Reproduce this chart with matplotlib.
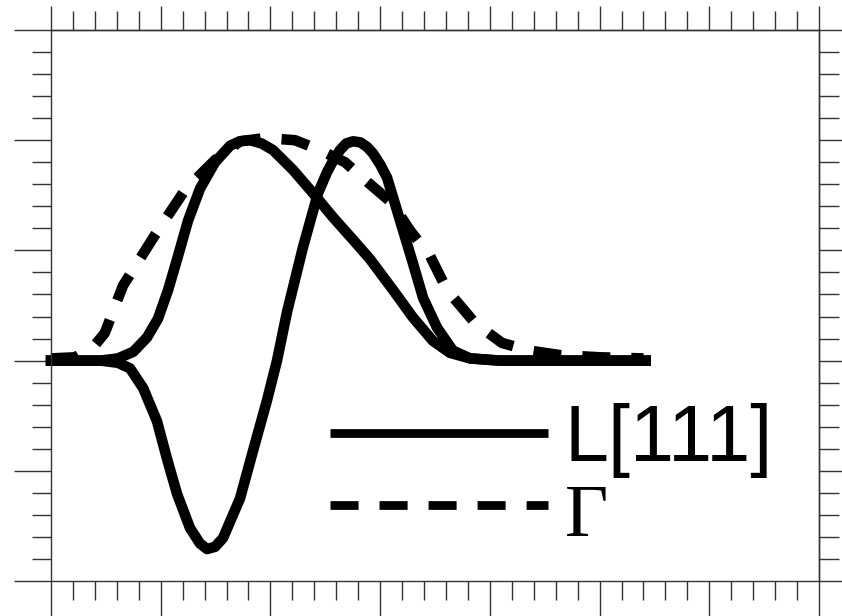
import numpy as np
import matplotlib
matplotlib.use("Agg")
import matplotlib.pyplot as plt
from matplotlib.ticker import MultipleLocator, NullFormatter
from matplotlib.lines import Line2D

plt.rcParams['lines.scale_dashes'] = False

# curve A (solid, peak at ~1.8)
xa = [0.00, 0.45, 0.61, 0.75, 0.875, 0.975, 1.067, 1.158, 1.249, 1.358, 1.495, 1.632,
      1.72, 1.814, 1.92, 2.024, 2.206, 2.388, 2.571, 2.75, 2.908, 3.118, 3.30, 3.48,
      3.637, 3.82, 4.09, 5.42]
ya = [0.00, 0.00, 0.02, 0.08, 0.21, 0.38, 0.64, 0.95, 1.27, 1.56, 1.80, 1.95,
      1.99, 2.00, 1.97, 1.91, 1.73, 1.52, 1.30, 1.10, 0.92, 0.64, 0.39, 0.18,
      0.07, 0.02, 0.00, 0.00]

# curve B (solid, dip then peak)
xb = [0.00, 0.45, 0.61, 0.72, 0.84, 0.966, 1.057, 1.149, 1.267, 1.358, 1.422, 1.495,
      1.568, 1.723, 1.841, 1.969, 2.06, 2.151, 2.297, 2.434, 2.516, 2.58, 2.634, 2.69,
      2.753, 2.82, 2.88, 2.935, 3.0, 3.063, 3.118, 3.209, 3.30, 3.391, 3.518, 3.664,
      3.82, 4.09, 5.42]
yb = [0.00, 0.00, -0.02, -0.07, -0.25, -0.55, -0.89, -1.21, -1.52, -1.66, -1.71, -1.69,
      -1.61, -1.25, -0.82, -0.36, 0.00, 0.44, 1.03, 1.52, 1.71, 1.83, 1.91, 1.97,
      1.99, 1.98, 1.94, 1.88, 1.78, 1.66, 1.48, 1.18, 0.88, 0.57, 0.30, 0.09,
      0.02, 0.00, 0.00]

# Gamma (dashed)
xg = [0.00, 0.22, 0.40, 0.49, 0.656, 0.948, 1.222, 1.495, 1.723, 1.951, 2.224, 2.452,
      2.68, 2.862, 3.108, 3.273, 3.455, 3.61, 3.865, 4.111, 4.366, 4.64, 5.005, 5.40]
yg = [0.02, 0.03, 0.14, 0.25, 0.68, 1.14, 1.55, 1.82, 1.99, 2.02, 2.00, 1.91,
      1.80, 1.64, 1.43, 1.18, 0.95, 0.64, 0.34, 0.16, 0.09, 0.05, 0.03, 0.02]

labels = ['L[111]', '\u0393']

LW = 7.6
DASH = (20.2, 15.1)
SPINE = '#333333'

fig = plt.figure(figsize=(8.42, 6.16), dpi=100)
ax = fig.add_axes([51/842, 1-581/616, 768/842, 551/616])
ax.set_xlim(0, 7)
ax.set_ylim(-2, 3)

ax.plot(xa, ya, color='k', lw=LW, solid_capstyle='projecting', solid_joinstyle='round', clip_on=False)
ax.plot(xb, yb, color='k', lw=LW, solid_capstyle='projecting', solid_joinstyle='round', clip_on=False)
ax.plot(xg, yg, color='k', lw=LW, dashes=DASH, dash_capstyle='butt', clip_on=False)

# legend drawn by hand
ax.add_line(Line2D([0.3633, 0.6471], [0.269, 0.269], transform=ax.transAxes,
                   color='k', lw=6.3, solid_capstyle='butt'))
ax.add_line(Line2D([0.3633, 0.6471], [0.138, 0.138], transform=ax.transAxes,
                   color='k', lw=6.3, dashes=DASH, dash_capstyle='butt'))
ax.text(0.668, 0.218, labels[0], transform=ax.transAxes, fontsize=57,
        family='Liberation Sans', va='baseline', ha='left')
ax.text(0.669, 0.0818, labels[1], transform=ax.transAxes, fontsize=54,
        family='Liberation Serif', va='baseline', ha='left')

for s in ax.spines.values():
    s.set_color(SPINE)
    s.set_linewidth(1.0)

ax.xaxis.set_major_locator(MultipleLocator(1))
ax.xaxis.set_minor_locator(MultipleLocator(0.2))
ax.yaxis.set_major_locator(MultipleLocator(1))
ax.yaxis.set_minor_locator(MultipleLocator(0.2))
ax.xaxis.set_major_formatter(NullFormatter())
ax.yaxis.set_major_formatter(NullFormatter())
ax.tick_params(which='both', direction='out', color=SPINE, width=1.0)
ax.tick_params(which='major', length=26.6)
ax.tick_params(which='minor', length=13.7)

top = ax.secondary_xaxis('top')
top.xaxis.set_major_locator(MultipleLocator(1))
top.xaxis.set_minor_locator(MultipleLocator(0.2))
top.xaxis.set_major_formatter(NullFormatter())
top.tick_params(which='both', direction='out', color=SPINE, width=1.0)
top.tick_params(which='major', length=17.3)
top.tick_params(which='minor', length=13.7)

right = ax.secondary_yaxis('right')
right.yaxis.set_major_locator(MultipleLocator(1))
right.yaxis.set_minor_locator(MultipleLocator(0.2))
right.yaxis.set_major_formatter(NullFormatter())
right.tick_params(which='both', direction='out', color=SPINE, width=1.0)
right.tick_params(which='major', length=17.3)
right.tick_params(which='minor', length=14.4)

for sec in (top, right):
    for s in sec.spines.values():
        s.set_color(SPINE)
        s.set_linewidth(1.0)

fig.savefig('out.png', dpi=100)
